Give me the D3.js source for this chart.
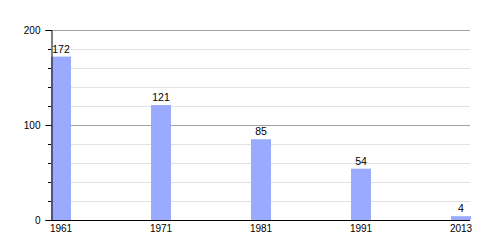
<!DOCTYPE html>
<html><head><meta charset="utf-8">
<script src="https://cdn.jsdelivr.net/npm/d3@7"></script>
<style>body{margin:0;background:#fff}svg{display:block}text{font-family:"Liberation Sans",Arial,sans-serif;fill:#000}</style>
</head><body><svg id="c" width="500" height="250"></svg>
<script>
const years = ["1961","1971","1981","1991","2013"];
const values = [172,121,85,54,4];
const yTicks = [0,100,200];

const svg = d3.select("#c");
const mLeft = 51, mRight = 470, mTop = 30, mBottom = 220, barW = 20;
const x = d3.scalePoint().domain(years).range([mLeft, mLeft + 400]);
const y = d3.scaleLinear().domain([0,200]).range([mBottom, mTop]);

// grid
const minor = d3.range(20, 200, 20).filter(v => v % 100 !== 0);
svg.append("g").selectAll("line").data(minor).join("line")
  .attr("x1", mLeft).attr("x2", mRight).attr("y1", d => y(d)+0.5).attr("y2", d => y(d)+0.5)
  .attr("stroke", "#e2e2e2").attr("stroke-width", 1);
svg.append("g").selectAll("line").data([100,200]).join("line")
  .attr("x1", mLeft).attr("x2", mRight).attr("y1", d => y(d)+0.5).attr("y2", d => y(d)+0.5)
  .attr("stroke", "#a0a0a0").attr("stroke-width", 1);

// bars
svg.append("g").selectAll("rect").data(values).join("rect")
  .attr("x", (d,i) => x(years[i])).attr("width", barW)
  .attr("y", d => y(d)).attr("height", d => y(0) - y(d))
  .attr("fill", "#99aaff");

// value labels
svg.append("g").selectAll("text").data(values).join("text")
  .attr("x", (d,i) => x(years[i]) + barW/2).attr("y", d => y(d) - 4)
  .attr("text-anchor", "middle").attr("font-size", "10.5px").text(d => d);

// y axis
const yAxis = svg.append("g").attr("transform", `translate(${mLeft+0.5},0)`)
  .call(d3.axisLeft(y).tickValues(yTicks).tickSize(6).tickPadding(5).tickFormat(d3.format("d")));
yAxis.select(".domain").attr("stroke", "#000");
yAxis.selectAll(".tick text").attr("font-size", "10px").attr("font-family", "Liberation Sans, Arial, sans-serif");
svg.append("g").selectAll("line").data(minor).join("line")
  .attr("x1", mLeft - 3).attr("x2", mLeft).attr("y1", d => y(d)+0.5).attr("y2", d => y(d)+0.5)
  .attr("stroke", "#000");

// x axis
svg.append("line").attr("x1", mLeft).attr("x2", mRight).attr("y1", mBottom+0.5).attr("y2", mBottom+0.5).attr("stroke", "#000");
svg.append("g").selectAll("text").data(years).join("text")
  .attr("x", d => x(d) + barW/2).attr("y", mBottom + 12)
  .attr("text-anchor", "middle").attr("font-size", "10px").text(d => d);
</script></body></html>
